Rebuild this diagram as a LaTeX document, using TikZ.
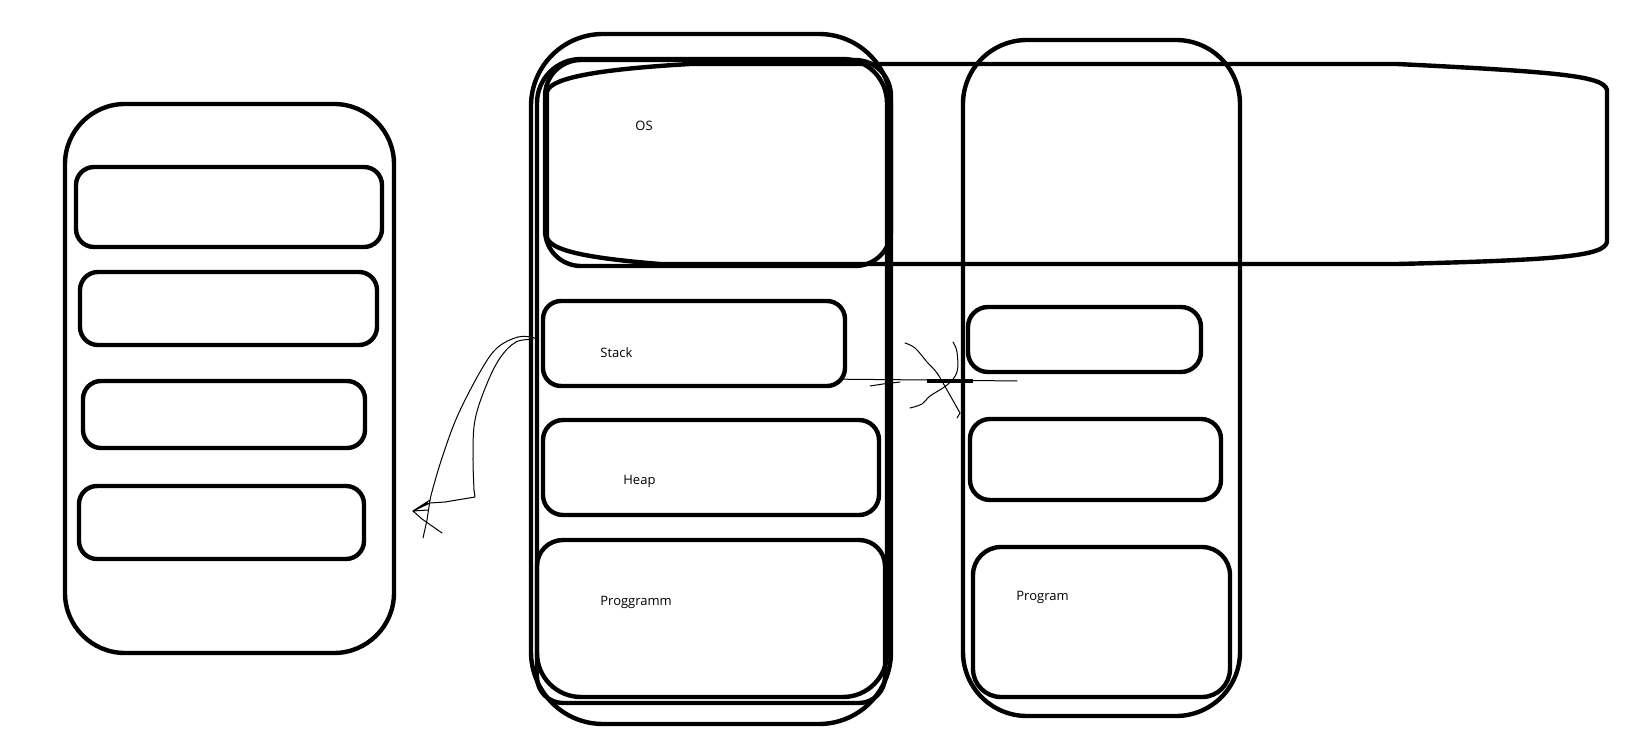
\documentclass[tikz,border=0pt]{standalone}
\usepackage{fontspec}
\setmainfont{Open Sans}
\usetikzlibrary{fit,calc}
\tikzset{
  box/.style={draw, line width=2.2pt, inner sep=0pt, rounded corners=#1},
  box/.default=8pt,
  lbl/.style={anchor=west, inner sep=0pt, font=\fontsize{6.5}{8}\selectfont},
  sketch/.style={line width=0.5pt, line join=round, line cap=round},
}
\begin{document}
\begin{tikzpicture}[x=0.5pt, y=-0.5pt]
\useasboundingbox (0,0) rectangle (1635,743);
% left column
\node[box=30pt, fit={(65,104)(394,653)}] (L) {};
\node[box=9pt, fit={(76,167)(382,247)}] (L1) {};
\node[box=9pt, fit={(80,272)(377,345)}] (L2) {};
\node[box=9pt, fit={(83,381)(365,448)}] (L3) {};
\node[box=9pt, fit={(79,486)(364,559)}] (L4) {};
% middle column
\node[box=36pt, fit={(531,34)(891,724)}] (M) {};
\node[box=22pt, fit={(537,59)(887,697)}] (Mi) {};
\node[box=18pt, fit={(545,60)(891,266)}] (OS) {};
\node[box=9pt, fit={(543,301)(845,386)}] (S) {};
\node[box=10pt, fit={(543,420)(879,515)}] (H) {};
\node[box=13pt, fit={(537,540)(885,703)}] (P) {};
% capsule across
\draw[line width=2.2pt, line join=round]
  (690,64) -- (1397,64) .. controls (1560,72) and (1604,76) .. (1607,90)
  -- (1607,242) .. controls (1604,256) and (1560,260) .. (1397,264)
  -- (660,264) .. controls (585,258) and (549,250) .. (547,237)
  -- (547,92) .. controls (549,80) and (585,70) .. (690,64) -- cycle;
% right column
\node[box=32pt, fit={(963,40)(1240,716)}] (R) {};
\node[box=10pt, fit={(968,307)(1201,372)}] (R1) {};
\node[box=10pt, fit={(970,419)(1221,500)}] (R2) {};
\node[box=14pt, fit={(973,547)(1230,697)}] (R3) {};
% labels
\node[lbl] (tOS) at (635,126) {OS};
\node[lbl] (tS) at (600,353) {Stack};
\node[lbl] (tH) at (623,481) {Heap};
\node[lbl] (tP) at (600,602) {Proggramm};
\node[lbl] (tR) at (1016,597) {Program};
% left hand-drawn arrow
\coordinate (tipL) at (413,511);
\draw[sketch] plot[smooth, tension=0.6] coordinates {($(S.west)+(-8,-6)$) (518,337) (497,348) (480,372) (457,417) (442,458) (433,488) (430,500)};
\draw[sketch] plot[smooth, tension=0.6] coordinates {($(S.west)+(-8,-4)$) (516,342) (500,358) (486,386) (475,420) (473,455) (474,490)};
\draw[sketch] (474,490) -- (475,497) -- (445,502) -- (430,503) -- (tipL);
\draw[sketch] ($(S.west)+(-8,-6)$) -- ($(S.west)+(-2,-4)$);
\draw[sketch] (430,500) -- (tipL) -- (428,503) (tipL) -- (422,519) -- (432,526) -- (442,533)
  (430,500) -- (427,520) -- (423,538) (tipL) -- (428,510);
% right scribble
\coordinate (endR) at (1017,381);
\draw[sketch] ($(S.south east)+(-5,-9)$) -- (927,380) -- (endR);
\draw[line width=1.6pt] (927,381) -- (973,381);
\draw[sketch] (870,386) -- (883,384) -- (900,382);
\draw[sketch] plot[smooth, tension=0.6] coordinates {(905,343) (915,348) (927,362) (937,373) (947,390) (960,413)};
\draw[sketch] (960,413) -- (957,418);
\draw[sketch] plot[smooth, tension=0.6] coordinates {(953,342) (957,352) (957,372) (947,385) (930,396) (922,404) (910,408)};
\end{tikzpicture}
\end{document}
